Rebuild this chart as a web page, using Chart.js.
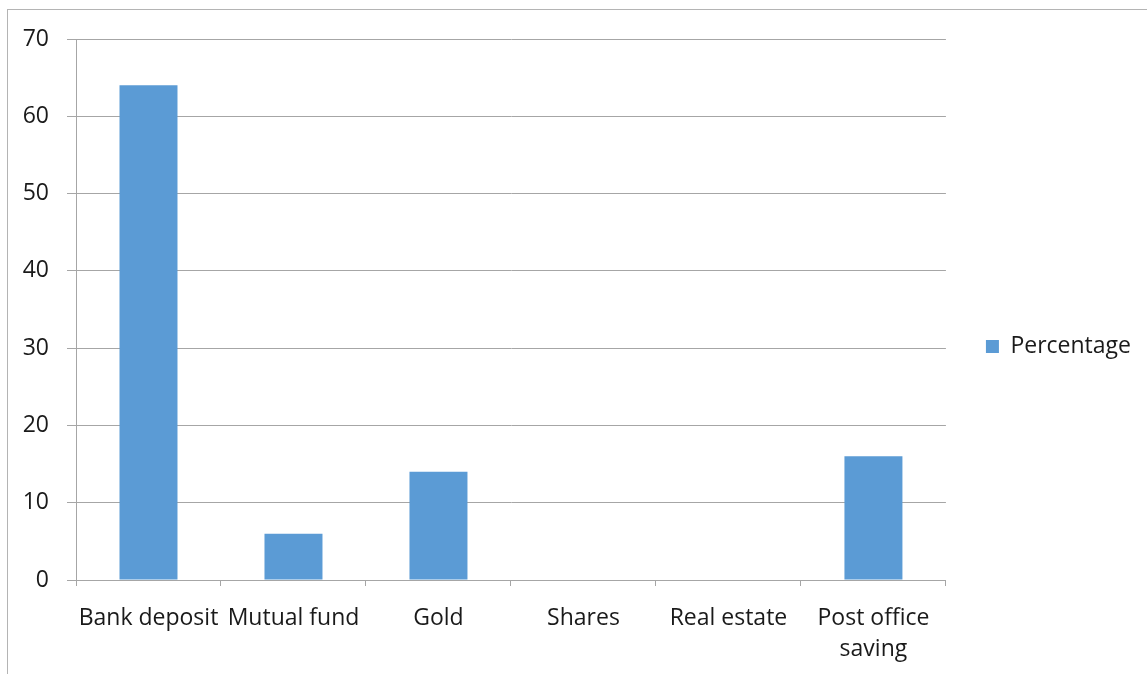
<!DOCTYPE html>
<html>
<head>
<meta charset="utf-8">
<script src="https://cdn.jsdelivr.net/npm/chart.js@4"></script>
<style>
  html, body { margin: 0; padding: 0; background: #fff; }
  #wrap { position: relative; width: 1147px; height: 674px; }
  #frame {
    position: absolute; left: 7px; top: 9px; right: -2px; bottom: -2px;
    border-left: 1px solid #b4b4b4; border-top: 1px solid #b4b4b4;
  }
  canvas { position: absolute; left: 0; top: 0; }
</style>
</head>
<body>
<div id="wrap">
  <div id="frame"></div>
  <canvas id="chart" width="1147" height="674"></canvas>
</div>
<script>
// Savings split by instrument
const categories = ['Bank deposit', 'Mutual fund', 'Gold', 'Shares', 'Real estate', ['Post office', 'saving']];
const seriesName = 'Percentage';
const percentages = [64, 6, 14, 0, 0, 16];
const yTicks = [0, 10, 20, 30, 40, 50, 60, 70];

const barColor = '#5b9bd5';
const gridColor = '#a6a6a6';
const textColor = '#1a1a1a';
const font = { family: '"Open Sans", sans-serif', size: 23, lineHeight: 1.35 };

const ctx = document.getElementById('chart').getContext('2d');
const chart = new Chart(ctx, {
    type: 'bar',
    data: {
        labels: categories,
        datasets: [{
            label: seriesName,
            data: percentages,
            backgroundColor: barColor,
            borderWidth: 0,
            categoryPercentage: 1.0,
            barPercentage: 0.4
        }]
    },
    options: {
        responsive: false,
        animation: false,
        layout: { padding: { left: 0, top: 39, right: 6, bottom: 0 } },
        plugins: {
            tooltip: { enabled: false },
            legend: {
                position: 'right',
                align: 'start',
                // blank title is just a spacer above the single entry
                title: { display: true, text: ' ', font: { size: 10, lineHeight: 1 }, padding: { top: 246, bottom: 0 } },
                labels: {
                    color: textColor,
                    font: font,
                    boxWidth: 13,
                    boxHeight: 13,
                    padding: 40
                }
            }
        },
        scales: {
            x: {
                afterFit: (scale) => { scale.height = 94; },
                grid: {
                    offset: true,
                    drawOnChartArea: false,
                    drawTicks: true,
                    tickLength: 6,
                    color: gridColor
                },
                border: { color: gridColor },
                ticks: { color: textColor, font: font, padding: 17, maxRotation: 0, autoSkip: false }
            },
            y: {
                min: 0,
                max: 70,
                afterFit: (scale) => { scale.width = 76; },
                afterBuildTicks: (scale) => { scale.ticks = yTicks.map(v => ({ value: v })); },
                grid: { color: gridColor, tickLength: 9 },
                border: { color: gridColor },
                ticks: { color: textColor, font: font, padding: 18 }
            }
        }
    }
});
</script>
</body>
</html>
